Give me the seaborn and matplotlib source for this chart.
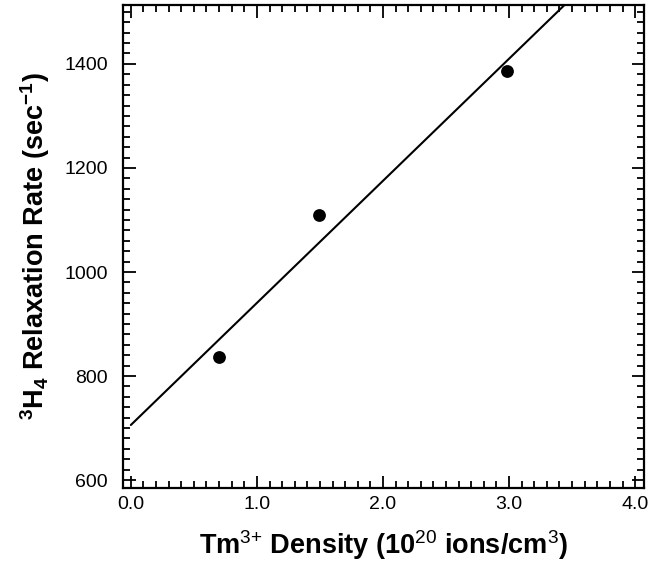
import numpy as np
import pandas as pd
import matplotlib
matplotlib.use("Agg")
import matplotlib.pyplot as plt
import seaborn as sns
from matplotlib.ticker import MultipleLocator, FormatStrFormatter

# Measured relaxation rates vs. Tm3+ concentration
density = [0.70, 1.494, 2.98]          # 10^20 ions/cm^3
rate = [836, 1109, 1387]               # sec^-1

sns.set_theme(style="ticks")
plt.rcParams["font.family"] = ["Liberation Sans", "DejaVu Sans"]
plt.rcParams["mathtext.fontset"] = "custom"
plt.rcParams["mathtext.rm"] = "Liberation Sans"
plt.rcParams["mathtext.bf"] = "Liberation Sans:bold"
plt.rcParams["mathtext.it"] = "Liberation Sans:italic"
plt.rcParams["text.color"] = "black"
plt.rcParams["axes.labelcolor"] = "black"
plt.rcParams["xtick.color"] = "black"
plt.rcParams["ytick.color"] = "black"

df = pd.DataFrame({"density": density, "rate": rate})

# least-squares straight-line fit through the measurements
slope, intercept = np.polyfit(df["density"], df["rate"], 1)
fit = pd.DataFrame({"density": [0.0, 4.0]})
fit["rate"] = intercept + slope * fit["density"]

fig = plt.figure(figsize=(6.68, 5.68), dpi=100)
ax = fig.add_axes([0.184, 0.141, 0.780, 0.850])

sns.lineplot(data=fit, x="density", y="rate", ax=ax, color="black", lw=1.5)
sns.scatterplot(data=df, x="density", y="rate", ax=ax, color="black",
                s=85, edgecolor="black", linewidth=0, zorder=3)

ax.set_xlim(-0.063, 4.07)
ax.set_ylim(585, 1513)

ax.xaxis.set_major_locator(MultipleLocator(1.0))
ax.xaxis.set_minor_locator(MultipleLocator(0.1))
ax.xaxis.set_major_formatter(FormatStrFormatter("%.1f"))
ax.yaxis.set_major_locator(MultipleLocator(200))
ax.yaxis.set_minor_locator(MultipleLocator(20))

ax.tick_params(which="both", direction="in", top=True, right=True,
               color="black", labelcolor="black", width=1.3)
ax.tick_params(which="major", length=9)
ax.tick_params(which="minor", length=5)
ax.tick_params(axis="x", which="major", labelsize=14, pad=6)
ax.tick_params(axis="y", which="major", labelsize=14, pad=11)

for sp in ax.spines.values():
    sp.set_visible(True)
    sp.set_linewidth(1.6)
    sp.set_color("black")

ax.set_xlabel(r"Tm$^{\mathrm{3{+}}}$ Density (10$^{\mathrm{20}}$ ions/cm$^{\mathrm{3}}$)",
              fontsize=19.5, fontweight="bold", labelpad=11)
ax.set_ylabel(r"$^{\mathbf{3}}$H$_{\mathbf{4}}$ Relaxation Rate (sec$^{\mathbf{-1}}$)",
              fontsize=19.5, fontweight="bold", labelpad=9)

fig.savefig("out.png", dpi=100, facecolor="white")
